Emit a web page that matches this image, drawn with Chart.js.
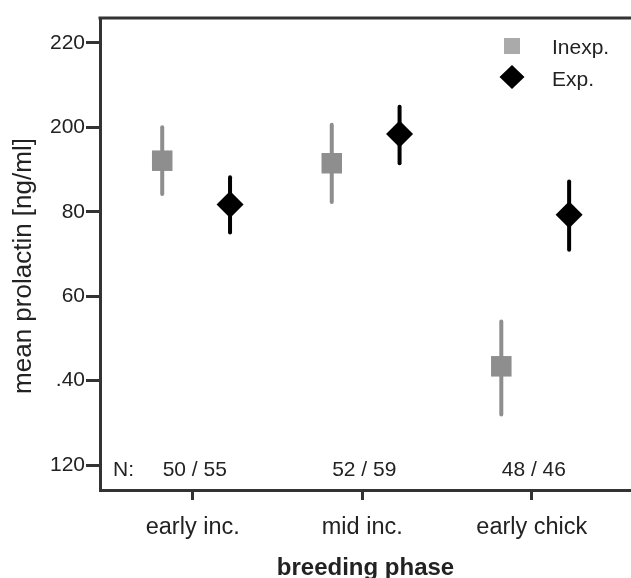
<!DOCTYPE html>
<html>
<head>
<meta charset="utf-8">
<script src="https://cdn.jsdelivr.net/npm/chart.js@4/dist/chart.umd.min.js"></script>
<style>
html,body{margin:0;padding:0;background:#fff;}
#wrap{width:631px;height:578px;}
</style>
</head>
<body>
<div id="wrap"><canvas id="c" width="631" height="578"></canvas></div>
<script>
// ---- data ----
const categories = ['early inc.', 'mid inc.', 'early chick'];
const inexpMean = [192.1, 191.5, 143.4];
const inexpLow  = [184.2, 182.3, 132.0];
const inexpHigh = [200.0, 200.6, 154.0];
const expMean = [181.7, 198.4, 179.3];
const expLow  = [175.1, 191.5, 171.0];
const expHigh = [188.2, 204.9, 187.2];
const nInexp = [50, 52, 48];
const nExp = [55, 59, 46];
const yTickValues = [120, 140, 160, 180, 200, 220];
const yTickLabels = ['120', '.40', '60', '80', '200', '220'];
const seriesNames = ['Inexp.', 'Exp.'];
const yTitle = 'mean prolactin [ng/ml]';
const xTitle = 'breeding phase';

// ---- style ----
const GRAY = '#8e8e8e';
const BLACK = '#000000';
const AXIS = '#333333';
const TEXT = '#222222';
const FONT = "'Liberation Sans', Arial, sans-serif";
const OFF_INEXP = -0.18, OFF_EXP = 0.22;

const inexpPts = inexpMean.map((v, i) => ({x: i + 1 + OFF_INEXP, y: v, lo: inexpLow[i], hi: inexpHigh[i]}));
const expPts = expMean.map((v, i) => ({x: i + 1 + OFF_EXP, y: v, lo: expLow[i], hi: expHigh[i]}));

const errorBars = {
  id: 'errorBars',
  beforeDatasetsDraw(chart) {
    const ctx = chart.ctx, xs = chart.scales.x, ys = chart.scales.y;
    chart.data.datasets.forEach(ds => {
      ctx.save();
      ctx.strokeStyle = ds.errColor;
      ctx.lineWidth = 4;
      ctx.lineCap = 'round';
      ds.data.forEach(p => {
        const px = xs.getPixelForValue(p.x);
        ctx.beginPath();
        ctx.moveTo(px, ys.getPixelForValue(p.lo));
        ctx.lineTo(px, ys.getPixelForValue(p.hi));
        ctx.stroke();
      });
      ctx.restore();
    });
  }
};

const extras = {
  id: 'extras',
  afterDraw(chart) {
    const ctx = chart.ctx, xs = chart.scales.x, ys = chart.scales.y, ca = chart.chartArea;
    ctx.save();
    // top frame line
    ctx.strokeStyle = AXIS;
    ctx.lineWidth = 3;
    ctx.beginPath();
    ctx.moveTo(ca.left - 1.5, ca.top);
    ctx.lineTo(chart.width, ca.top);
    ctx.stroke();
    // y title
    ctx.save();
    ctx.translate(24, 266);
    ctx.rotate(-Math.PI / 2);
    ctx.fillStyle = TEXT;
    ctx.font = '26px ' + FONT;
    ctx.textAlign = 'center';
    ctx.textBaseline = 'middle';
    ctx.fillText(yTitle, 0, 0);
    ctx.restore();
    // N labels
    ctx.fillStyle = TEXT;
    ctx.font = '21px ' + FONT;
    ctx.textBaseline = 'middle';
    ctx.textAlign = 'left';
    const ny = ys.getPixelForValue(118.8);
    ctx.fillText('N:', ca.left + 13, ny);
    ctx.textAlign = 'center';
    categories.forEach((c, i) => {
      ctx.fillText(nInexp[i] + ' / ' + nExp[i], xs.getPixelForValue(i + 1) + 2, ny);
    });
    // legend
    const lx = 512;
    const ly1 = 46, ly2 = 77;
    ctx.fillStyle = '#aaaaaa';
    ctx.fillRect(lx - 8, ly1 - 8, 16, 16);
    ctx.fillStyle = BLACK;
    ctx.beginPath();
    ctx.moveTo(lx, ly2 - 12);
    ctx.lineTo(lx + 12.5, ly2);
    ctx.lineTo(lx, ly2 + 12);
    ctx.lineTo(lx - 12.5, ly2);
    ctx.closePath();
    ctx.fill();
    ctx.fillStyle = TEXT;
    ctx.textAlign = 'left';
    ctx.font = '21px ' + FONT;
    ctx.fillText(seriesNames[0], 552, 48);
    ctx.fillText(seriesNames[1], 552, 80);
    ctx.restore();
  }
};

new Chart(document.getElementById('c'), {
  type: 'scatter',
  data: {
    datasets: [
      {label: seriesNames[0], data: inexpPts, pointStyle: 'rect', pointRadius: 14.5, pointHoverRadius: 14.5,
       backgroundColor: GRAY, borderColor: GRAY, borderWidth: 0, errColor: GRAY},
      {label: seriesNames[1], data: expPts, pointStyle: 'rectRot', pointRadius: 13.5, pointHoverRadius: 13.5,
       backgroundColor: BLACK, borderColor: BLACK, borderWidth: 0, errColor: BLACK}
    ]
  },
  options: {
    responsive: false,
    animation: false,
    events: [],
    layout: {autoPadding: false, padding: {top: 18, right: 0, left: 0, bottom: 0}},
    plugins: {legend: {display: false}, tooltip: {enabled: false}},
    scales: {
      x: {
        type: 'linear',
        min: 0.453,
        max: 3.585,
        afterBuildTicks: s => { s.ticks = categories.map((c, i) => ({value: i + 1})); },
        afterFit: s => { s.height = 88; s.paddingLeft = 0; s.paddingRight = 0; },
        ticks: {
          callback: (v) => categories[v - 1],
          font: {family: FONT, size: 23.5},
          color: TEXT,
          padding: 13,
          maxRotation: 0,
          autoSkip: false
        },
        grid: {drawOnChartArea: false, drawTicks: true, tickLength: 10, color: AXIS, lineWidth: 3},
        border: {display: true, color: AXIS, width: 3},
        title: {display: true, text: xTitle, font: {family: FONT, size: 24, weight: 'bold', lineHeight: 0.8},
                color: TEXT, padding: {top: 0, bottom: 0}}
      },
      y: {
        type: 'linear',
        min: 114.1,
        max: 225.9,
        afterBuildTicks: s => { s.ticks = yTickValues.map(v => ({value: v})); },
        afterFit: s => { s.width = 100; s.paddingTop = 0; s.paddingBottom = 0; },
        ticks: {
          callback: (v) => yTickLabels[yTickValues.indexOf(v)],
          font: {family: FONT, size: 21},
          color: TEXT,
          padding: 1,
          autoSkip: false
        },
        grid: {drawOnChartArea: false, drawTicks: true, tickLength: 14, color: AXIS, lineWidth: 3},
        border: {display: true, color: AXIS, width: 3},
        title: {display: false}
      }
    }
  },
  plugins: [errorBars, extras]
});
</script>
</body>
</html>
